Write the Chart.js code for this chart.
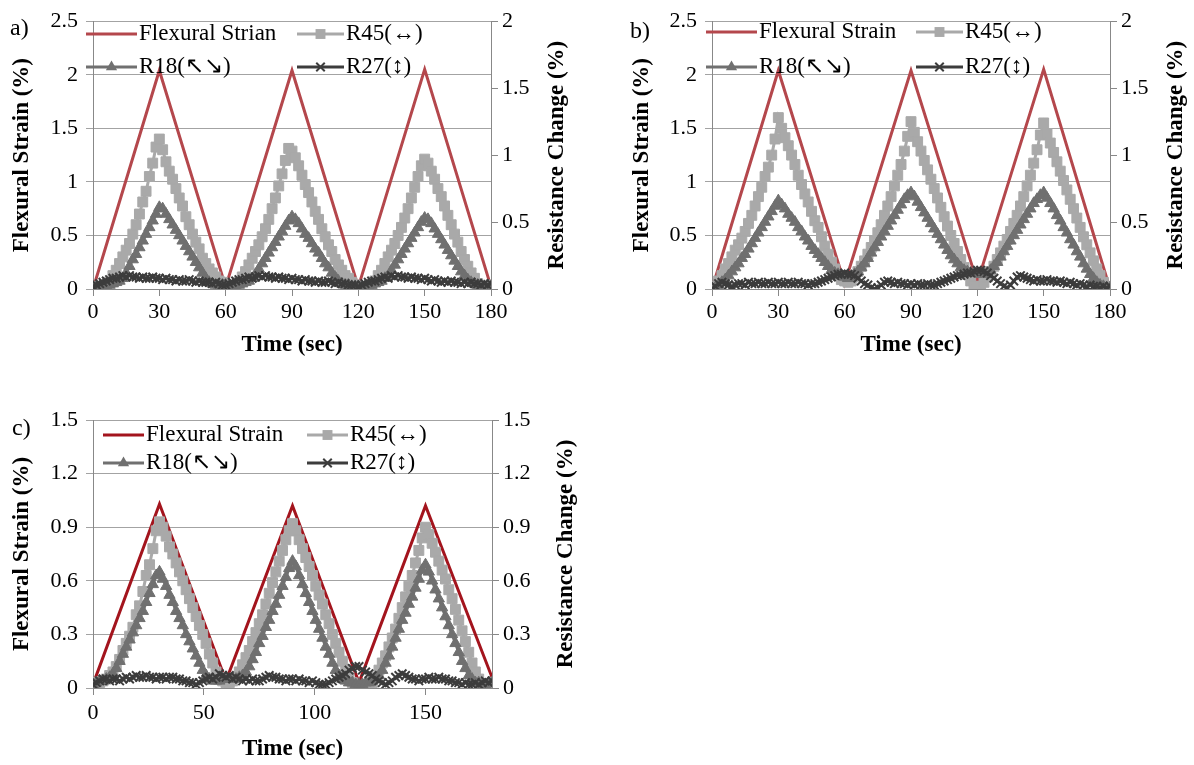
<!DOCTYPE html>
<html>
<head>
<meta charset="utf-8">
<script src="https://cdn.jsdelivr.net/npm/chart.js"></script>
<style>
  body { margin: 0; background: #fff; }
  canvas { position: absolute; }
</style>
</head>
<body>
<canvas id="chartA" width="590" height="370" style="left:0;top:0"></canvas>
<canvas id="chartB" width="604" height="370" style="left:590px;top:0"></canvas>
<canvas id="chartC" width="590" height="375" style="left:0;top:390px"></canvas>
<script>
// sample times (sec)
const times = [0, 1.5, 3, 4.5, 6, 7.5, 9, 10.5, 12, 13.5, 15, 16.5, 18, 19.5, 21, 22.5, 24, 25.5, 27, 28.5,
  30, 31.5, 33, 34.5, 36, 37.5, 39, 40.5, 42, 43.5, 45, 46.5, 48, 49.5, 51, 52.5, 54, 55.5, 57, 58.5,
  60, 61.5, 63, 64.5, 66, 67.5, 69, 70.5, 72, 73.5, 75, 76.5, 78, 79.5, 81, 82.5, 84, 85.5, 87, 88.5,
  90, 91.5, 93, 94.5, 96, 97.5, 99, 100.5, 102, 103.5, 105, 106.5, 108, 109.5, 111, 112.5, 114, 115.5, 117, 118.5,
  120, 121.5, 123, 124.5, 126, 127.5, 129, 130.5, 132, 133.5, 135, 136.5, 138, 139.5, 141, 142.5, 144, 145.5, 147, 148.5,
  150, 151.5, 153, 154.5, 156, 157.5, 159, 160.5, 162, 163.5, 165, 166.5, 168, 169.5, 171, 172.5, 174, 175.5, 177, 178.5, 180];
const strainTimes = [0, 30, 60, 90, 120, 150, 180];

// tick labels
const xTicksAB = [0, 30, 60, 90, 120, 150, 180];
const xTicksC = [0, 50, 100, 150];
const strainTicksAB = [0, 0.5, 1, 1.5, 2, 2.5];
const resTicksAB = [0, 0.5, 1, 1.5, 2];
const ticksC = [0, 0.3, 0.6, 0.9, 1.2, 1.5];

// a)
const strainA = [0, 2.04, 0.02, 2.04, 0.02, 2.05, 0.02];
const r45A = [0.02, 0, 0, 0, 0.02, 0.05, 0.1, 0.14, 0.19, 0.24, 0.29, 0.34, 0.41, 0.48, 0.56, 0.65, 0.73, 0.84, 0.94, 1.06,
  1.12, 1.04, 0.95, 0.88, 0.82, 0.75, 0.68, 0.62, 0.54, 0.48, 0.41, 0.35, 0.3, 0.23, 0.19, 0.15, 0.12, 0.09, 0.06, 0.05,
  0.03, 0.01, 0.01, 0.02, 0.05, 0.09, 0.13, 0.18, 0.23, 0.28, 0.33, 0.39, 0.45, 0.52, 0.6, 0.68, 0.77, 0.86, 0.96, 1.05,
  1.03, 0.98, 0.92, 0.85, 0.78, 0.72, 0.65, 0.58, 0.52, 0.45, 0.39, 0.33, 0.28, 0.22, 0.18, 0.14, 0.1, 0.08, 0.05, 0.03,
  0.02, 0, 0, 0.01, 0.03, 0.06, 0.1, 0.14, 0.19, 0.24, 0.29, 0.34, 0.4, 0.46, 0.53, 0.6, 0.68, 0.76, 0.84, 0.92,
  0.97, 0.94, 0.88, 0.82, 0.75, 0.69, 0.62, 0.55, 0.48, 0.41, 0.35, 0.28, 0.22, 0.17, 0.12, 0.08, 0.04, 0.02, 0.01, 0.02, 0.03];
const r18A = [0.02, 0.02, 0.02, 0.03, 0.03, 0.03, 0.04, 0.05, 0.06, 0.08, 0.12, 0.17, 0.22, 0.26, 0.31, 0.36, 0.41, 0.46, 0.51, 0.56,
  0.61, 0.6, 0.56, 0.52, 0.48, 0.44, 0.4, 0.36, 0.32, 0.28, 0.24, 0.2, 0.16, 0.12, 0.08, 0.05, 0.04, 0.03, 0.03, 0.03,
  0.03, 0.02, 0.02, 0.03, 0.03, 0.04, 0.05, 0.06, 0.08, 0.11, 0.15, 0.19, 0.23, 0.27, 0.31, 0.35, 0.39, 0.43, 0.47, 0.51,
  0.54, 0.52, 0.49, 0.45, 0.41, 0.38, 0.34, 0.3, 0.27, 0.23, 0.19, 0.16, 0.12, 0.09, 0.06, 0.04, 0.03, 0.03, 0.02, 0.02,
  0.02, 0.02, 0.02, 0.03, 0.03, 0.04, 0.05, 0.06, 0.08, 0.1, 0.14, 0.18, 0.22, 0.26, 0.3, 0.34, 0.38, 0.42, 0.46, 0.5,
  0.53, 0.52, 0.49, 0.45, 0.41, 0.37, 0.33, 0.29, 0.25, 0.21, 0.17, 0.13, 0.1, 0.07, 0.05, 0.04, 0.03, 0.03, 0.02, 0.02, 0.02];
const r27A = [0.02, 0.03, 0.04, 0.05, 0.06, 0.07, 0.08, 0.08, 0.09, 0.1, 0.09, 0.1, 0.09, 0.09, 0.08, 0.09, 0.08, 0.08, 0.09, 0.08,
  0.08, 0.07, 0.08, 0.07, 0.07, 0.06, 0.07, 0.06, 0.06, 0.07, 0.06, 0.05, 0.06, 0.05, 0.05, 0.05, 0.04, 0.05, 0.04, 0.03,
  0.03, 0.04, 0.05, 0.06, 0.07, 0.07, 0.08, 0.09, 0.08, 0.09, 0.1, 0.09, 0.1, 0.09, 0.09, 0.08, 0.09, 0.08, 0.08, 0.07,
  0.08, 0.07, 0.07, 0.06, 0.07, 0.06, 0.06, 0.05, 0.06, 0.05, 0.05, 0.06, 0.05, 0.04, 0.05, 0.04, 0.04, 0.03, 0.03, 0.03,
  0.02, 0.03, 0.04, 0.05, 0.06, 0.06, 0.07, 0.08, 0.09, 0.08, 0.1, 0.09, 0.1, 0.09, 0.09, 0.08, 0.09, 0.08, 0.08, 0.07,
  0.08, 0.07, 0.06, 0.07, 0.06, 0.05, 0.06, 0.05, 0.06, 0.05, 0.05, 0.04, 0.05, 0.04, 0.05, 0.04, 0.04, 0.03, 0.04, 0.03, 0.04];

// b)
const strainB = [0, 2.04, 0.05, 2.04, 0.06, 2.05, 0];
const r45B = [0, 0.02, 0.06, 0.1, 0.15, 0.19, 0.24, 0.29, 0.33, 0.38, 0.43, 0.49, 0.55, 0.62, 0.69, 0.76, 0.84, 0.91, 1, 1.12,
  1.28, 1.2, 1.13, 1.07, 1, 0.93, 0.85, 0.78, 0.71, 0.65, 0.58, 0.51, 0.46, 0.39, 0.32, 0.26, 0.2, 0.15, 0.1, 0.07,
  0.06, 0.05, 0.06, 0.09, 0.13, 0.17, 0.21, 0.26, 0.31, 0.36, 0.42, 0.48, 0.55, 0.62, 0.69, 0.77, 0.85, 0.93, 1.03, 1.14,
  1.25, 1.17, 1.1, 1.03, 0.96, 0.89, 0.82, 0.75, 0.68, 0.61, 0.54, 0.47, 0.4, 0.34, 0.28, 0.22, 0.16, 0.11, 0.06, 0.02,
  0, 0.02, 0.05, 0.09, 0.13, 0.17, 0.22, 0.27, 0.32, 0.37, 0.43, 0.49, 0.55, 0.62, 0.69, 0.77, 0.85, 0.94, 1.04, 1.15,
  1.24, 1.16, 1.09, 1.02, 0.95, 0.88, 0.81, 0.74, 0.67, 0.6, 0.53, 0.46, 0.39, 0.33, 0.27, 0.21, 0.15, 0.1, 0.05, 0.02, 0.01];
const r18B = [0, 0.01, 0.03, 0.05, 0.07, 0.1, 0.13, 0.16, 0.19, 0.23, 0.26, 0.3, 0.34, 0.38, 0.42, 0.46, 0.5, 0.54, 0.58, 0.62,
  0.66, 0.63, 0.6, 0.56, 0.53, 0.5, 0.46, 0.43, 0.39, 0.36, 0.32, 0.29, 0.26, 0.23, 0.2, 0.17, 0.14, 0.12, 0.11, 0.1,
  0.09, 0.08, 0.09, 0.11, 0.13, 0.16, 0.19, 0.23, 0.27, 0.31, 0.35, 0.39, 0.43, 0.47, 0.51, 0.55, 0.59, 0.63, 0.67, 0.7,
  0.72, 0.69, 0.65, 0.61, 0.57, 0.53, 0.49, 0.45, 0.41, 0.37, 0.33, 0.29, 0.25, 0.22, 0.19, 0.16, 0.14, 0.13, 0.12, 0.12,
  0.12, 0.11, 0.11, 0.12, 0.14, 0.17, 0.2, 0.24, 0.28, 0.32, 0.36, 0.4, 0.44, 0.48, 0.52, 0.56, 0.6, 0.64, 0.67, 0.7,
  0.72, 0.68, 0.64, 0.6, 0.55, 0.51, 0.46, 0.42, 0.37, 0.33, 0.28, 0.24, 0.19, 0.15, 0.11, 0.08, 0.05, 0.03, 0.02, 0.01, 0.01];
const r27B = [0, 0.02, 0.04, 0.05, 0.04, 0.03, 0.02, 0.03, 0.04, 0.04, 0.03, 0.05, 0.04, 0.04, 0.05, 0.04, 0.04, 0.05, 0.04, 0.04,
  0.05, 0.04, 0.04, 0.05, 0.04, 0.04, 0.05, 0.04, 0.04, 0.03, 0.04, 0.04, 0.05, 0.06, 0.07, 0.08, 0.09, 0.1, 0.11, 0.11,
  0.12, 0.11, 0.11, 0.1, 0.08, 0.06, 0.04, 0.03, 0.01, 0, 0.01, 0.03, 0.05, 0.06, 0.05, 0.04, 0.05, 0.04, 0.04, 0.03,
  0.04, 0.03, 0.04, 0.03, 0.03, 0.04, 0.03, 0.03, 0.04, 0.05, 0.06, 0.07, 0.08, 0.09, 0.1, 0.1, 0.11, 0.12, 0.12, 0.13,
  0.14, 0.14, 0.13, 0.12, 0.1, 0.08, 0.06, 0.04, 0.02, 0.01, 0.03, 0.06, 0.09, 0.1, 0.09, 0.08, 0.07, 0.06, 0.07, 0.06,
  0.06, 0.07, 0.06, 0.06, 0.05, 0.06, 0.05, 0.04, 0.05, 0.04, 0.03, 0.04, 0.03, 0.02, 0.03, 0.02, 0.02, 0.01, 0.02, 0.01, 0.02];

// c)
const strainC = [0.02, 1.03, 0.04, 1.02, 0.03, 1.02, 0.06];
const r45C = [0.03, 0.02, 0.03, 0.04, 0.05, 0.07, 0.09, 0.12, 0.16, 0.21, 0.25, 0.29, 0.34, 0.41, 0.46, 0.54, 0.63, 0.69, 0.78, 0.88,
  0.93, 0.9, 0.85, 0.79, 0.75, 0.7, 0.65, 0.6, 0.55, 0.5, 0.45, 0.4, 0.35, 0.3, 0.25, 0.19, 0.14, 0.09, 0.06, 0.04,
  0.03, 0.03, 0.04, 0.06, 0.09, 0.13, 0.17, 0.21, 0.26, 0.31, 0.36, 0.41, 0.47, 0.53, 0.59, 0.65, 0.71, 0.77, 0.83, 0.88,
  0.92, 0.88, 0.83, 0.78, 0.73, 0.68, 0.63, 0.57, 0.52, 0.47, 0.41, 0.36, 0.3, 0.25, 0.2, 0.15, 0.1, 0.06, 0.03, 0.01,
  0, 0, 0, 0.01, 0.03, 0.06, 0.1, 0.14, 0.18, 0.23, 0.28, 0.33, 0.39, 0.45, 0.51, 0.57, 0.63, 0.7, 0.77, 0.84,
  0.9, 0.86, 0.81, 0.76, 0.71, 0.66, 0.61, 0.55, 0.5, 0.44, 0.38, 0.32, 0.26, 0.2, 0.14, 0.09, 0.05, 0.02, 0, 0.01, 0.03];
const r18C = [0.02, 0.03, 0.04, 0.04, 0.05, 0.06, 0.08, 0.11, 0.15, 0.19, 0.23, 0.27, 0.31, 0.35, 0.39, 0.43, 0.48, 0.53, 0.58, 0.63,
  0.65, 0.61, 0.57, 0.52, 0.48, 0.43, 0.39, 0.35, 0.3, 0.26, 0.22, 0.18, 0.14, 0.1, 0.07, 0.05, 0.04, 0.04, 0.04, 0.05,
  0.05, 0.05, 0.05, 0.05, 0.06, 0.07, 0.09, 0.12, 0.16, 0.2, 0.25, 0.29, 0.34, 0.38, 0.43, 0.47, 0.52, 0.57, 0.62, 0.67,
  0.71, 0.68, 0.63, 0.58, 0.53, 0.48, 0.43, 0.38, 0.33, 0.28, 0.23, 0.19, 0.14, 0.1, 0.07, 0.05, 0.04, 0.03, 0.03, 0.02,
  0.02, 0.02, 0.03, 0.03, 0.04, 0.05, 0.07, 0.1, 0.14, 0.18, 0.23, 0.28, 0.33, 0.38, 0.42, 0.47, 0.51, 0.56, 0.61, 0.66,
  0.69, 0.65, 0.6, 0.55, 0.5, 0.45, 0.4, 0.35, 0.3, 0.25, 0.2, 0.15, 0.11, 0.07, 0.05, 0.03, 0.03, 0.02, 0.02, 0.03, 0.03];
const r27C = [0.02, 0.03, 0.04, 0.05, 0.05, 0.04, 0.05, 0.05, 0.04, 0.05, 0.06, 0.05, 0.06, 0.07, 0.06, 0.06, 0.07, 0.06, 0.06, 0.05,
  0.06, 0.06, 0.05, 0.06, 0.06, 0.05, 0.05, 0.04, 0.04, 0.03, 0.03, 0.02, 0.03, 0.04, 0.05, 0.06, 0.05, 0.06, 0.08, 0.07,
  0.06, 0.07, 0.05, 0.06, 0.05, 0.04, 0.05, 0.04, 0.05, 0.04, 0.04, 0.05, 0.06, 0.07, 0.06, 0.06, 0.05, 0.05, 0.04, 0.05,
  0.05, 0.04, 0.05, 0.04, 0.04, 0.03, 0.04, 0.03, 0.02, 0.02, 0.02, 0.03, 0.04, 0.05, 0.06, 0.07, 0.08, 0.1, 0.11, 0.12,
  0.12, 0.1, 0.09, 0.08, 0.07, 0.05, 0.04, 0.03, 0.02, 0.03, 0.04, 0.06, 0.07, 0.08, 0.07, 0.06, 0.05, 0.05, 0.04, 0.05,
  0.05, 0.06, 0.05, 0.05, 0.06, 0.05, 0.05, 0.04, 0.04, 0.03, 0.03, 0.02, 0.03, 0.02, 0.02, 0.03, 0.02, 0.03, 0.04, 0.03, 0.04];

const SERIF = '"Liberation Serif", "Times New Roman", serif';
const GRID = '#a3a3a3';
const AXIS = '#888888';

function pts(xs, ys) {
  return xs.map((x, i) => ({ x: x, y: ys[i] }));
}

function drawMarker(ctx, style, x, y, r) {
  ctx.beginPath();
  if (style === 'rect') {
    const s = r * Math.SQRT1_2;
    ctx.rect(x - s, y - s, 2 * s, 2 * s);
    ctx.fill();
  } else if (style === 'triangle') {
    ctx.moveTo(x, y - r);
    ctx.lineTo(x + 0.866 * r, y + 0.5 * r);
    ctx.lineTo(x - 0.866 * r, y + 0.5 * r);
    ctx.closePath();
    ctx.fill();
  } else if (style === 'crossRot') {
    const o = r * Math.SQRT1_2;
    ctx.moveTo(x - o, y - o); ctx.lineTo(x + o, y + o);
    ctx.moveTo(x - o, y + o); ctx.lineTo(x + o, y - o);
    ctx.stroke();
  }
}

// legend, panel letter and right axis title
const decor = {
  id: 'decor',
  afterDraw(chart, args, opts) {
    const ctx = chart.ctx;
    const area = chart.chartArea;
    ctx.save();
    ctx.fillStyle = '#000';
    ctx.textBaseline = 'middle';
    ctx.textAlign = 'left';
    ctx.font = '24px ' + SERIF;
    ctx.fillText(opts.letter, opts.letterX, opts.letterY);

    ctx.save();
    ctx.translate(opts.rightTitleX, (area.top + area.bottom) / 2);
    ctx.rotate(-Math.PI / 2);
    ctx.textAlign = 'center';
    ctx.font = 'bold 23px ' + SERIF;
    ctx.fillText('Resistance Change (%)', 0, 0);
    ctx.restore();

    opts.legend.forEach(item => {
      const ds = chart.data.datasets[item.i];
      ctx.strokeStyle = ds.borderColor;
      ctx.lineWidth = 3;
      ctx.beginPath();
      ctx.moveTo(item.x, item.y);
      ctx.lineTo(item.x + item.w, item.y);
      ctx.stroke();
      if (ds.pointRadius > 0) {
        ctx.fillStyle = ds.pointBackgroundColor;
        ctx.strokeStyle = ds.pointBorderColor;
        ctx.lineWidth = ds.pointBorderWidth;
        drawMarker(ctx, ds.pointStyle, item.x + item.w / 2, item.y, ds.pointRadius);
      }
      ctx.fillStyle = '#000';
      ctx.font = '23px ' + SERIF;
      ctx.fillText(ds.label, item.x + item.w + 2, item.y);
    });
    ctx.restore();
  }
};

function makeDatasets(flexLabel, strain, r45, r18, r27, red) {
  return [
    { label: flexLabel, data: pts(strainTimes, strain), yAxisID: 'yL', borderColor: red, backgroundColor: red,
      borderWidth: 3, pointRadius: 0, order: 4 },
    { label: 'R45(\u2194)', data: pts(times, r45), yAxisID: 'yR', borderColor: '#a9a9a9', backgroundColor: '#a9a9a9',
      borderWidth: 3, pointStyle: 'rect', pointRadius: 7, pointBackgroundColor: '#a9a9a9', pointBorderColor: '#a9a9a9',
      pointBorderWidth: 1, order: 3 },
    { label: 'R18(\u2196\u2198)', data: pts(times, r18), yAxisID: 'yR', borderColor: '#707070', backgroundColor: '#707070',
      borderWidth: 3, pointStyle: 'triangle', pointRadius: 6.5, pointBackgroundColor: '#707070', pointBorderColor: '#707070',
      pointBorderWidth: 1, order: 2 },
    { label: 'R27(\u2195)', data: pts(times, r27), yAxisID: 'yR', borderColor: '#3c3c3c', backgroundColor: '#3c3c3c',
      borderWidth: 3, pointStyle: 'crossRot', pointRadius: 6, pointBackgroundColor: '#3c3c3c', pointBorderColor: '#3c3c3c',
      pointBorderWidth: 2, order: 1 }
  ];
}

function makeChart(id, datasets, p) {
  const tickFont = { family: SERIF, size: 22 };
  const titleFont = { family: SERIF, size: 23, weight: 'bold' };
  return new Chart(document.getElementById(id), {
    type: 'line',
    data: { datasets: datasets },
    plugins: [decor],
    options: {
      responsive: false,
      animation: false,
      events: [],
      layout: { padding: { top: p.top, left: 0, right: 0, bottom: 0 } },
      elements: { line: { tension: 0 } },
      plugins: {
        legend: { display: false },
        tooltip: { enabled: false },
        decor: p.decor
      },
      scales: {
        x: {
          type: 'linear', min: 0, max: 180,
          afterBuildTicks: s => { s.ticks = p.xTicks.map(v => ({ value: v })); },
          afterFit: s => { s.height = p.xHeight; },
          grid: { drawOnChartArea: false, drawTicks: true, tickLength: 7, color: AXIS },
          border: { display: true, color: AXIS, width: 1 },
          ticks: { font: tickFont, color: '#000', padding: p.xPad, autoSkip: false, maxRotation: 0,
            callback: v => String(v) },
          title: { display: true, text: 'Time (sec)', color: '#000', font: titleFont,
            padding: { top: 0, bottom: p.xTitlePad } }
        },
        yL: {
          type: 'linear', position: 'left', min: 0, max: p.leftTicks[p.leftTicks.length - 1],
          afterBuildTicks: s => { s.ticks = p.leftTicks.map(v => ({ value: v })); },
          afterFit: s => { s.width = p.leftWidth; },
          grid: { color: GRID, drawTicks: true, tickLength: 7 },
          border: { display: true, color: AXIS, width: 1 },
          ticks: { font: tickFont, color: '#000', padding: 8, callback: v => String(v) },
          title: { display: true, text: 'Flexural Strain (%)', color: '#000', font: titleFont,
            padding: { top: p.leftTitlePad, bottom: 0 } }
        },
        yR: {
          type: 'linear', position: 'right', min: 0, max: p.rightTicks[p.rightTicks.length - 1],
          afterBuildTicks: s => { s.ticks = p.rightTicks.map(v => ({ value: v })); },
          afterFit: s => { s.width = p.rightWidth; },
          grid: { drawOnChartArea: false, drawTicks: true, tickLength: 7, color: AXIS },
          border: { display: true, color: AXIS, width: 1 },
          ticks: { font: tickFont, color: '#000', padding: 4, callback: v => String(v) }
        }
      }
    }
  });
}

makeChart('chartA', makeDatasets('Flexural Strian', strainA, r45A, r18A, r27A, '#b4474c'), {
  top: 21, leftWidth: 93, rightWidth: 99, xHeight: 81, leftTitlePad: 8, xTitlePad: 11, xPad: 3,
  xTicks: xTicksAB, leftTicks: strainTicksAB, rightTicks: resTicksAB,
  decor: {
    letter: 'a)', letterX: 10, letterY: 29, rightTitleX: 557,
    legend: [
      { i: 0, x: 86, y: 34, w: 51 }, { i: 1, x: 297, y: 34, w: 47 },
      { i: 2, x: 86, y: 67, w: 51 }, { i: 3, x: 297, y: 67, w: 47 }
    ]
  }
});

makeChart('chartB', makeDatasets('Flexural Strain', strainB, r45B, r18B, r27B, '#b4474c'), {
  top: 21, leftWidth: 122, rightWidth: 84, xHeight: 81, leftTitlePad: 38, xTitlePad: 11, xPad: 3,
  xTicks: xTicksAB, leftTicks: strainTicksAB, rightTicks: resTicksAB,
  decor: {
    letter: 'b)', letterX: 40, letterY: 32, rightTitleX: 586,
    legend: [
      { i: 0, x: 116, y: 32, w: 51 }, { i: 1, x: 326, y: 32, w: 47 },
      { i: 2, x: 116, y: 67, w: 51 }, { i: 3, x: 326, y: 67, w: 47 }
    ]
  }
});

makeChart('chartC', makeDatasets('Flexural Strain', strainC, r45C, r18C, r27C, '#a3141d'), {
  top: 30, leftWidth: 93, rightWidth: 98, xHeight: 77, leftTitlePad: 8, xTitlePad: 2, xPad: 5,
  xTicks: xTicksC, leftTicks: ticksC, rightTicks: ticksC,
  decor: {
    letter: 'c)', letterX: 12, letterY: 39, rightTitleX: 566,
    legend: [
      { i: 0, x: 103, y: 45, w: 41 }, { i: 1, x: 307, y: 45, w: 41 },
      { i: 2, x: 103, y: 73, w: 41 }, { i: 3, x: 307, y: 73, w: 41 }
    ]
  }
});
</script>
</body>
</html>
